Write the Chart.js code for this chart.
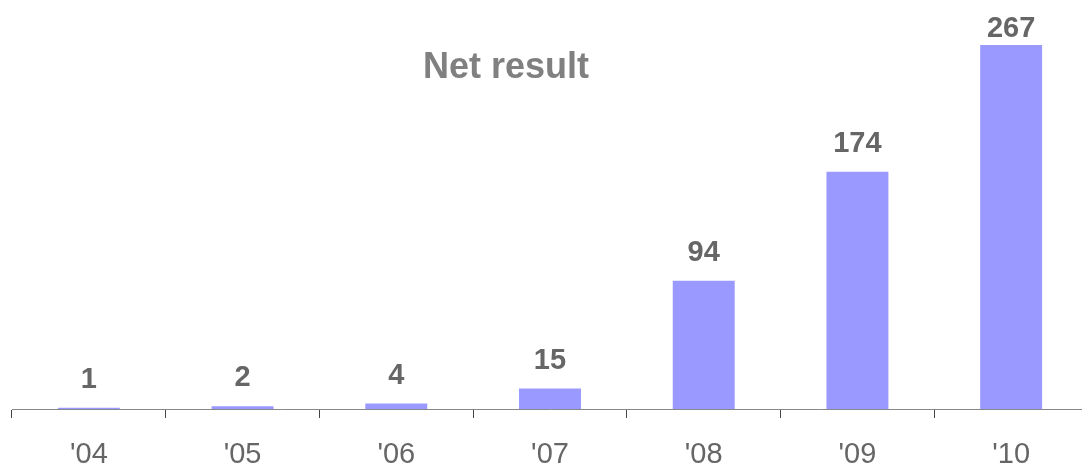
<!DOCTYPE html>
<html>
<head>
<meta charset="utf-8">
<script src="https://cdn.jsdelivr.net/npm/chart.js@4"></script>
<style>
  html, body { margin: 0; padding: 0; background: #fff; overflow: hidden; }
  #chart { display: block; }
</style>
</head>
<body>
<canvas id="chart" width="1088" height="466"></canvas>
<script>
const years = ["'04", "'05", "'06", "'07", "'08", "'09", "'10"];
const netResult = [1, 2, 4, 15, 94, 174, 267];
const titleText = "Net result";

const FONT = "'Liberation Sans', Arial, sans-serif";

// ---------- value labels above bars ----------
const valueLabels = {
  id: "valueLabels",
  afterDatasetsDraw(chart) {
    const ctx = chart.ctx;
    const meta = chart.getDatasetMeta(0);
    ctx.save();
    ctx.font = "bold 29px " + FONT;
    ctx.fillStyle = "#666666";
    ctx.textAlign = "center";
    ctx.textBaseline = "alphabetic";
    meta.data.forEach((bar, i) => {
      const y = Math.max(bar.y - 20, 37);
      ctx.fillText(String(netResult[i]), bar.x, y);
    });
    ctx.restore();
  }
};

// ---------- title ----------
const titlePlugin = {
  id: "netTitle",
  afterDraw(chart) {
    const ctx = chart.ctx;
    ctx.save();
    ctx.font = "bold 36px " + FONT;
    ctx.fillStyle = "#808080";
    ctx.textAlign = "center";
    ctx.textBaseline = "alphabetic";
    ctx.fillText(titleText, 506, 78);
    ctx.restore();
  }
};

new Chart(document.getElementById("chart"), {
  type: "bar",
  data: {
    labels: years,
    datasets: [{
      data: netResult,
      backgroundColor: "#9999FF",
      borderWidth: 0,
      categoryPercentage: 1,
      barPercentage: 0.403
    }]
  },
  options: {
    responsive: false,
    animation: false,
    layout: { padding: { left: 12, right: 0, top: 0, bottom: 0 } },
    plugins: {
      legend: { display: false },
      tooltip: { enabled: false },
      title: { display: false }
    },
    scales: {
      x: {
        z: 1,
        offset: true,
        grid: {
          display: true,
          drawOnChartArea: false,
          drawTicks: true,
          tickLength: 9,
          tickColor: "#444444",
          offset: true
        },
        border: { display: true, color: "#888888", width: 1 },
        ticks: {
          color: "#666666",
          padding: 22,
          font: { family: FONT, size: 29, lineHeight: 1 }
        },
        afterFit(scale) { scale.height = 57; }
      },
      y: {
        display: false,
        min: 0,
        max: 300
      }
    }
  },
  plugins: [valueLabels, titlePlugin]
});
</script>
</body>
</html>
